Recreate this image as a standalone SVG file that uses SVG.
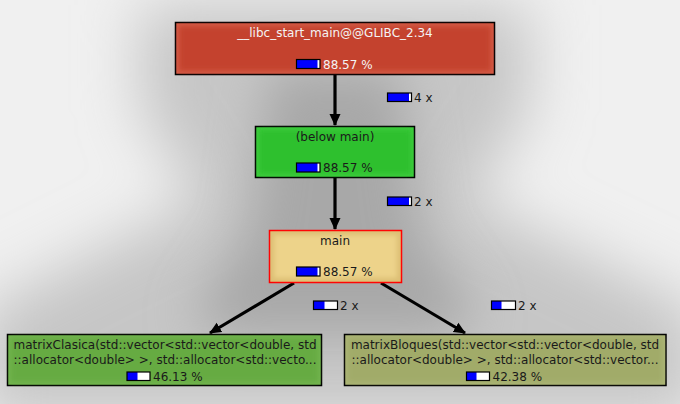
<svg xmlns="http://www.w3.org/2000/svg" width="680" height="404" viewBox="0 0 680 404">
<defs>
<style>
text{font-family:"DejaVu Sans",sans-serif;font-size:12px;fill:#1a1a1a}
.lt{fill:#f4f4f4}
.outer{stroke:#000;stroke-width:1.5}
.edge{stroke:#000;stroke-width:3.2;fill:none}
.bb{fill:#0000ff}
.bw{fill:#fff}
.bo{fill:none;stroke:#000;stroke-width:1.2}
</style>
<filter id="soft" x="-5%" y="-10%" width="110%" height="120%"><feGaussianBlur stdDeviation="2.5"/></filter>
<filter id="bg1" x="-50%" y="-50%" width="200%" height="200%"><feGaussianBlur stdDeviation="30"/></filter>
<filter id="bg2" x="-50%" y="-50%" width="200%" height="200%"><feGaussianBlur stdDeviation="24"/></filter>
<marker id="ah" markerUnits="userSpaceOnUse" markerWidth="12" markerHeight="12" viewBox="0 0 12 12" refX="11" refY="6" orient="auto"><path d="M0,0.5 L12,6 L0,11.5 Z" fill="#000"/></marker>
</defs>
<rect width="680" height="404" fill="#f0f0f0"/>
<g id="shadow">
<polygon points="140,5 530,5 530,110 470,200 700,310 700,420 -20,420 -20,310 200,200 140,110" fill="#c6c6c6" filter="url(#bg1)"/>
<polygon points="270,70 400,70 420,230 480,320 440,335 230,335 190,320 250,230" fill="#a8a8a8" filter="url(#bg2)"/>
</g>
<g id="connectors">
<line class="edge" x1="335" y1="75" x2="335" y2="125" marker-end="url(#ah)"/>
<line class="edge" x1="335" y1="178" x2="335" y2="229" marker-end="url(#ah)"/>
<line class="edge" x1="294" y1="283" x2="210" y2="333" marker-end="url(#ah)"/>
<line class="edge" x1="381" y1="283" x2="465" y2="333" marker-end="url(#ah)"/>
<g id="lbl1"><rect class="bw" x="387.5" y="93" width="24" height="8.5"/><rect class="bb" x="387.5" y="93" width="21.5" height="8.5"/><rect class="bo" x="387.5" y="93" width="24" height="8.5"/><text x="414" y="101.5">4 x</text></g>
<g id="lbl2"><rect class="bw" x="387.5" y="197" width="24" height="8.5"/><rect class="bb" x="387.5" y="197" width="21.5" height="8.5"/><rect class="bo" x="387.5" y="197" width="24" height="8.5"/><text x="414" y="205.5">2 x</text></g>
<g id="lbl3"><rect class="bw" x="313.5" y="301" width="24" height="8.5"/><rect class="bb" x="313.5" y="301" width="11" height="8.5"/><rect class="bo" x="313.5" y="301" width="24" height="8.5"/><text x="340" y="309.5">2 x</text></g>
<g id="lbl4"><rect class="bw" x="491.5" y="301" width="24" height="8.5"/><rect class="bb" x="491.5" y="301" width="10" height="8.5"/><rect class="bo" x="491.5" y="301" width="24" height="8.5"/><text x="518" y="309.5">2 x</text></g>
</g>
<g id="n1">
<rect class="outer" x="175.5" y="22.5" width="319" height="52" fill="#d45b46"/>
<rect x="179" y="26" width="312" height="45" fill="#c4432f" filter="url(#soft)"/>
<text class="lt" x="335" y="37" text-anchor="middle">__libc_start_main@@GLIBC_2.34</text>
<rect class="bw" x="296.5" y="59.5" width="23.5" height="9"/><rect class="bb" x="296.5" y="59.5" width="21" height="9"/><rect class="bo" x="296.5" y="59.5" width="23.5" height="9"/>
<text class="lt" x="323" y="68.5">88.57 %</text>
</g>
<g id="n2">
<rect class="outer" x="255.5" y="126.5" width="159" height="51" fill="#3ccc3c"/>
<rect x="259" y="130" width="152" height="44" fill="#2fc02f" filter="url(#soft)"/>
<text x="335" y="140.5" text-anchor="middle">(below main)</text>
<rect class="bw" x="296.5" y="163" width="23.5" height="9"/><rect class="bb" x="296.5" y="163" width="21" height="9"/><rect class="bo" x="296.5" y="163" width="23.5" height="9"/>
<text x="323" y="172">88.57 %</text>
</g>
<g id="n3">
<rect x="269.5" y="230.5" width="132" height="52" fill="#dcbe74" stroke="#ff0000" stroke-width="1.5"/>
<rect x="274" y="235" width="123" height="43" fill="#edd38a" filter="url(#soft)"/>
<text x="335" y="244.5" text-anchor="middle">main</text>
<rect class="bw" x="296.5" y="267" width="23.5" height="9"/><rect class="bb" x="296.5" y="267" width="21" height="9"/><rect class="bo" x="296.5" y="267" width="23.5" height="9"/>
<text x="323" y="276">88.57 %</text>
</g>
<g id="n4">
<rect class="outer" x="7.5" y="334.5" width="314" height="51" fill="#72b44e"/>
<rect x="11" y="338" width="307" height="44" fill="#66ab43" filter="url(#soft)"/>
<text x="165" y="349" text-anchor="middle">matrixClasica(std::vector&lt;std::vector&lt;double, std</text>
<text x="165" y="363.5" text-anchor="middle">::allocator&lt;double&gt; &gt;, std::allocator&lt;std::vecto...</text>
<rect class="bw" x="127" y="372" width="23" height="8.5"/><rect class="bb" x="127" y="372" width="10.5" height="8.5"/><rect class="bo" x="127" y="372" width="23" height="8.5"/>
<text x="153" y="381">46.13 %</text>
</g>
<g id="n5">
<rect class="outer" x="344.5" y="334.5" width="321.5" height="51" fill="#abb475"/>
<rect x="348" y="338" width="314.5" height="44" fill="#a1ab69" filter="url(#soft)"/>
<text x="505" y="349" text-anchor="middle">matrixBloques(std::vector&lt;std::vector&lt;double, std</text>
<text x="505" y="363.5" text-anchor="middle">::allocator&lt;double&gt; &gt;, std::allocator&lt;std::vector...</text>
<rect class="bw" x="466.5" y="372" width="23" height="8.5"/><rect class="bb" x="466.5" y="372" width="10" height="8.5"/><rect class="bo" x="466.5" y="372" width="23" height="8.5"/>
<text x="492.5" y="381">42.38 %</text>
</g>
</svg>
